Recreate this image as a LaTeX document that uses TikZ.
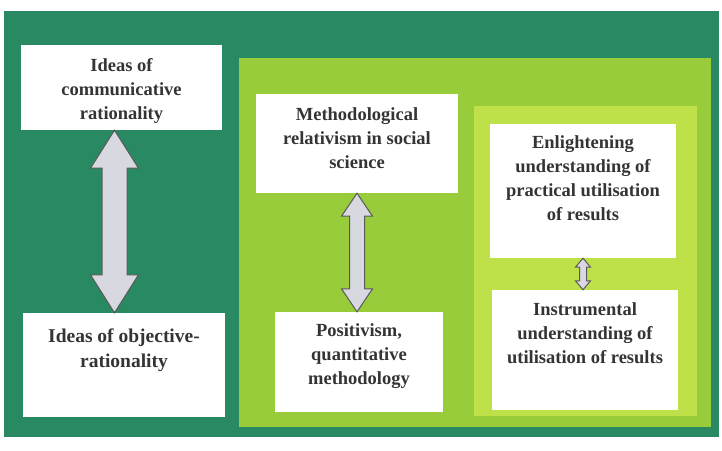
\documentclass[tikz,border=0pt]{standalone}
\usepackage{fontspec}
\setmainfont{Liberation Serif}[BoldFont={Liberation Serif Bold}]
\newfontfamily\boxserif{Liberation Serif Bold}
\usepackage{tikz}
\usetikzlibrary{calc}
\definecolor{framegreen}{RGB}{40,137,98}
\definecolor{leafgreen}{RGB}{152,204,58}
\definecolor{palelime}{RGB}{190,224,72}
\definecolor{arrowgrey}{RGB}{216,216,224}
\definecolor{inkgrey}{RGB}{52,52,52}
\tikzstyle{textbox} = [rectangle,fill=white,inner sep=0pt,text=inkgrey,font=\boxserif\fontsize{18.5}{24}\selectfont]
\tikzstyle{fatarrow} = [draw=black!65,fill=arrowgrey,line width=1pt,line join=miter]
% width, height, gap above first line, text
\newcommand{\boxtext}[4]{\parbox[c][#2][t]{#1}{\centering\vspace*{#3}\strut #4\par}}
% from, to, half shaft, half head, head length
\newcommand{\fatarrow}[5]{%
  \draw[fatarrow] let \p1=(#1), \p2=(#2) in
    (\x1,\y1) -- (\x1+#4,\y1-#5) -- (\x1+#3,\y1-#5) -- (\x1+#3,\y2+#5) -- (\x1+#4,\y2+#5)
    -- (\x1,\y2) -- (\x1-#4,\y2+#5) -- (\x1-#3,\y2+#5) -- (\x1-#3,\y1-#5) -- (\x1-#4,\y1-#5) -- cycle;}

\begin{document}
\begin{tikzpicture}[x=1pt,y=-1pt]
\useasboundingbox (0,0) rectangle (722,450);
\fill[framegreen] (4,11) rectangle (719,437);
\fill[leafgreen] (239,58) rectangle (711,427);
\fill[palelime] (474,106) rectangle (697,416);

\node (commrat) [textbox] at (121.5,87.5) {\boxtext{201pt}{85pt}{10pt}{Ideas of\\communicative\\rationality}};
\node (objrat) [textbox,font=\boxserif\fontsize{19.5}{25}\selectfont] at (124,365) {\boxtext{202pt}{104pt}{12pt}{Ideas of objective-\\rationality}};
\node (relativism) [textbox] at (357,143.5) {\boxtext{202pt}{99pt}{10pt}{Methodological\\relativism in social\\science}};
\node (positivism) [textbox] at (359,362) {\boxtext{168pt}{100pt}{8pt}{Positivism,\\quantitative\\methodology}};
\node (enlighten) [textbox] at (583,191) {\boxtext{186pt}{134pt}{8pt}{Enlightening\\understanding of\\practical utilisation\\of results}};
\node (instrument) [textbox] at (585,350) {\boxtext{186pt}{120pt}{9pt}{Instrumental\\understanding of\\utilisation of results}};

\fatarrow{[xshift=-7pt]commrat.south}{[xshift=-9.5pt]objrat.north}{12.5pt}{24pt}{38pt}
\fatarrow{relativism.south}{positivism.north}{7.5pt}{15.5pt}{23pt}
\fatarrow{enlighten.south}{instrument.north}{3.5pt}{7.5pt}{9pt}
\end{tikzpicture}
\end{document}
